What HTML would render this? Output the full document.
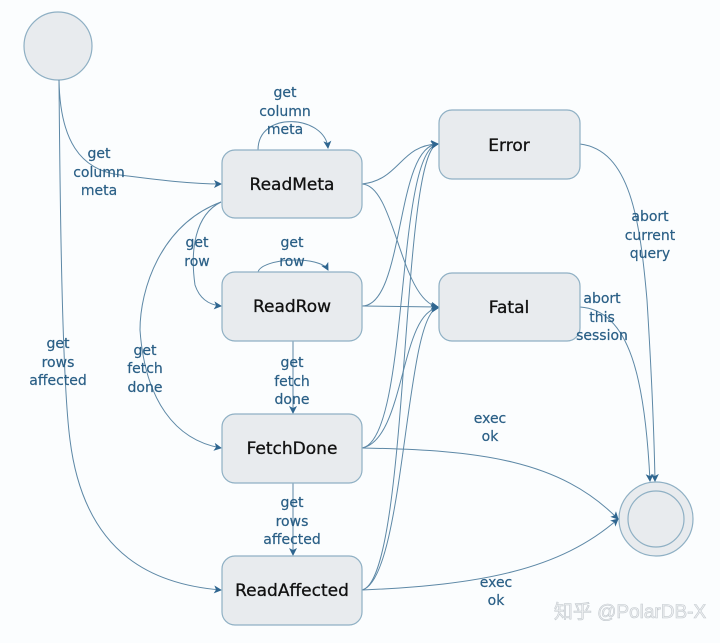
<!DOCTYPE html>
<html><head><meta charset="utf-8"><style>
html,body{margin:0;padding:0;background:#fbfdfe;}
svg{display:block}
.b{fill:#e8ebee;stroke:#8fb0c4;stroke-width:1.2}
.n{font:17px "DejaVu Sans","Liberation Sans",sans-serif;fill:#111;text-anchor:middle;stroke:#111;stroke-width:0.3}
.l{font:14px "DejaVu Sans","Liberation Sans",sans-serif;fill:#2a5f86;text-anchor:middle;stroke:#2a5f86;stroke-width:0.2}
.e{fill:none;stroke:#5d88a6;stroke-width:1}
</style></head><body>
<svg width="720" height="643" viewBox="0 0 720 643" xmlns="http://www.w3.org/2000/svg">
<defs><marker id="a" markerWidth="8" markerHeight="8" refX="7" refY="4" orient="auto" markerUnits="userSpaceOnUse"><path d="M0,0 L8,4 L0,8 L2,4z" fill="#2f6690"/></marker></defs>
<circle cx="58" cy="46" r="34" class="b"/>
<circle cx="656" cy="519" r="37" class="b"/>
<circle cx="656" cy="519" r="28" class="b"/>
<path class="e" marker-end="url(#a)" d="M59,80 C60,140 80,170 120,175 C160,180 190,184 221,184"/>
<path class="e" marker-end="url(#a)" d="M59,80 C60,200 62,380 70,440 C85,560 160,585 221,590"/>
<path class="e" marker-end="url(#a)" d="M258,150 C258,110 325,115 328,148"/>
<path class="e" marker-end="url(#a)" d="M258,272 C262,258 320,255 328,270"/>
<path class="e" marker-end="url(#a)" d="M221,202 C195,215 190,250 195,285 C200,300 210,305 221,306"/>
<path class="e" marker-end="url(#a)" d="M221,202 C160,225 140,290 140,330 C145,400 175,440 221,448"/>
<path class="e" marker-end="url(#a)" d="M293,341 L293,413"/>
<path class="e" marker-end="url(#a)" d="M293,483 L293,555"/>
<path class="e" marker-end="url(#a)" d="M362,184 C400,180 400,145 438,144"/>
<path class="e" marker-end="url(#a)" d="M362,184 C395,185 400,300 438,307"/>
<path class="e" marker-end="url(#a)" d="M362,306 C405,306 395,145 438,144"/>
<path class="e" marker-end="url(#a)" d="M362,306 L438,307"/>
<path class="e" marker-end="url(#a)" d="M362,448 C410,440 395,150 438,144"/>
<path class="e" marker-end="url(#a)" d="M362,448 C405,440 400,312 438,308"/>
<path class="e" marker-end="url(#a)" d="M362,590 C410,580 400,150 438,144"/>
<path class="e" marker-end="url(#a)" d="M362,590 C405,580 405,312 438,308"/>
<path class="e" marker-end="url(#a)" d="M362,448 C480,450 560,460 618,519"/>
<path class="e" marker-end="url(#a)" d="M362,590 C480,585 560,570 618,519"/>
<path class="e" marker-end="url(#a)" d="M580,144 C630,150 640,220 647,300 C652,380 654,430 655,481"/>
<path class="e" marker-end="url(#a)" d="M580,307 C630,310 645,380 650,481"/>
<rect class="b" x="222" y="150" width="140" height="68" rx="13"/>
<rect class="b" x="222" y="272" width="140" height="69" rx="13"/>
<rect class="b" x="222" y="414" width="140" height="69" rx="13"/>
<rect class="b" x="222" y="556" width="140" height="69" rx="13"/>
<rect class="b" x="439" y="110" width="141" height="69" rx="13"/>
<rect class="b" x="439" y="273" width="141" height="68" rx="13"/>
<text class="n" x="292" y="190">ReadMeta</text>
<text class="n" x="292" y="312">ReadRow</text>
<text class="n" x="292" y="454">FetchDone</text>
<text class="n" x="292" y="596">ReadAffected</text>
<text class="n" x="509" y="151">Error</text>
<text class="n" x="509" y="313">Fatal</text>
<g class="l">
<text x="99" y="158">get</text><text x="99" y="177">column</text><text x="99" y="195">meta</text>
<text x="285" y="97">get</text><text x="285" y="116">column</text><text x="285" y="134">meta</text>
<text x="197" y="247">get</text><text x="197" y="266">row</text>
<text x="292" y="247">get</text><text x="292" y="266">row</text>
<text x="58" y="348">get</text><text x="58" y="367">rows</text><text x="58" y="385">affected</text>
<text x="145" y="355">get</text><text x="145" y="373">fetch</text><text x="145" y="392">done</text>
<text x="292" y="367">get</text><text x="292" y="386">fetch</text><text x="292" y="404">done</text>
<text x="292" y="507">get</text><text x="292" y="526">rows</text><text x="292" y="544">affected</text>
<text x="490" y="423">exec</text><text x="490" y="441">ok</text>
<text x="496" y="587">exec</text><text x="496" y="605">ok</text>
<text x="650" y="221">abort</text><text x="650" y="240">current</text><text x="650" y="258">query</text>
<text x="602" y="303">abort</text><text x="602" y="322">this</text><text x="602" y="340">session</text>
</g>
<text x="630" y="618" style="font:19px 'Liberation Sans','Noto Sans CJK SC',sans-serif;fill:#eef0f2;stroke:#c3c9ce;stroke-width:0.6;text-anchor:middle">知乎 @PolarDB-X</text>
</svg>
</body></html>
